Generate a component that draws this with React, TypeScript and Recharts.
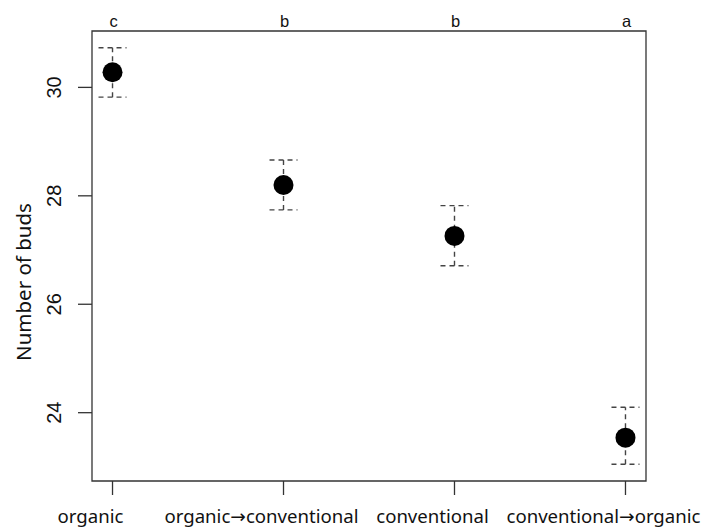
import {
  ComposedChart,
  Scatter,
  ErrorBar,
  XAxis,
  YAxis,
  ReferenceArea,
} from 'recharts';

// treatment groups, left to right
const CATEGORIES = ['organic', 'organic→conventional', 'conventional', 'conventional→organic'];
// mean number of buds and the ends of the error bars
const MEANS = [30.28, 28.2, 27.26, 23.54];
const LOWER = [29.82, 27.74, 26.71, 23.05];
const UPPER = [30.73, 28.66, 27.82, 24.1];
// significance letters shown above the plot
const GROUP_LETTERS = ['c', 'b', 'b', 'a'];
const Y_TICKS = [24, 26, 28, 30];
const X_TICKS = [1, 2, 3, 4];

const X_DOMAIN = [0.88, 4.12];
const Y_DOMAIN = [22.74, 31.04];

const LABEL_FONT = '"Noto Sans", "DejaVu Sans", sans-serif';
const NUM_FONT = '"Liberation Sans", Arial, sans-serif';

const chartData = CATEGORIES.map((name, i) => ({
  x: i + 1,
  name,
  y: MEANS[i],
  err: [MEANS[i] - LOWER[i], UPPER[i] - MEANS[i]],
}));

const BottomTick = ({ x, y, payload }: any) => (
  <text x={x - 22} y={y + 26} textAnchor="middle" fontFamily={LABEL_FONT} fontSize={18.6} fill="#111">
    {CATEGORIES[payload.value - 1]}
  </text>
);

const TopTick = ({ x, payload }: any) => (
  <text x={x + 1} y={27} textAnchor="middle" fontFamily={NUM_FONT} fontSize={16.5} fill="#111">
    {GROUP_LETTERS[payload.value - 1]}
  </text>
);

const LeftTick = ({ x, y, payload }: any) => (
  <text
    x={x - 15}
    y={y}
    textAnchor="middle"
    transform={`rotate(-90, ${x - 15}, ${y})`}
    fontFamily={NUM_FONT}
    fontSize={20}
    fill="#111"
  >
    {payload.value}
  </text>
);

const YTitle = ({ viewBox }: any) => {
  const cx = 31;
  const cy = viewBox.y + viewBox.height / 2 + 26;
  return (
    <text
      x={cx}
      y={cy}
      textAnchor="middle"
      transform={`rotate(-90, ${cx}, ${cy})`}
      fontFamily={LABEL_FONT}
      fontSize={20.5}
      fill="#111"
    >
      Number of buds
    </text>
  );
};

const Dot = ({ cx, cy }: any) => <circle cx={cx} cy={cy} r={10} fill="#000" />;

export default function App() {
  return (
    <div style={{ position: 'fixed', left: 0, top: 0, width: 725, height: 529, background: '#fff' }}>
      <ComposedChart
        width={725}
        height={529}
        data={chartData}
        margin={{ top: 0, right: 79, left: 0, bottom: 0 }}
      >
        <XAxis
          dataKey="x"
          type="number"
          domain={X_DOMAIN}
          ticks={X_TICKS}
          allowDataOverflow
          height={48}
          tickSize={14}
          tickLine={{ stroke: '#333', strokeWidth: 1.3 }}
          axisLine={false}
          tick={<BottomTick />}
          interval={0}
        />
        <XAxis
          xAxisId="top"
          orientation="top"
          dataKey="x"
          type="number"
          domain={X_DOMAIN}
          ticks={X_TICKS}
          allowDataOverflow
          height={31}
          tickLine={false}
          axisLine={false}
          tick={<TopTick />}
          interval={0}
        />
        <YAxis
          type="number"
          domain={Y_DOMAIN}
          ticks={Y_TICKS}
          allowDataOverflow
          width={92}
          tickSize={14}
          tickLine={{ stroke: '#333', strokeWidth: 1.3 }}
          axisLine={false}
          tick={<LeftTick />}
          interval={0}
          label={<YTitle />}
        />
        <ReferenceArea
          x1={X_DOMAIN[0]}
          x2={X_DOMAIN[1]}
          y1={Y_DOMAIN[0]}
          y2={Y_DOMAIN[1]}
          fill="none"
          stroke="#333"
          strokeWidth={1.3}
          fillOpacity={0}
        />
        <Scatter dataKey="y" shape={<Dot />} isAnimationActive={false}>
          <ErrorBar
            dataKey="err"
            direction="y"
            width={14}
            stroke="#444"
            strokeWidth={1.4}
            strokeDasharray="5 4"
            isAnimationActive={false}
          />
        </Scatter>
      </ComposedChart>
    </div>
  );
}
